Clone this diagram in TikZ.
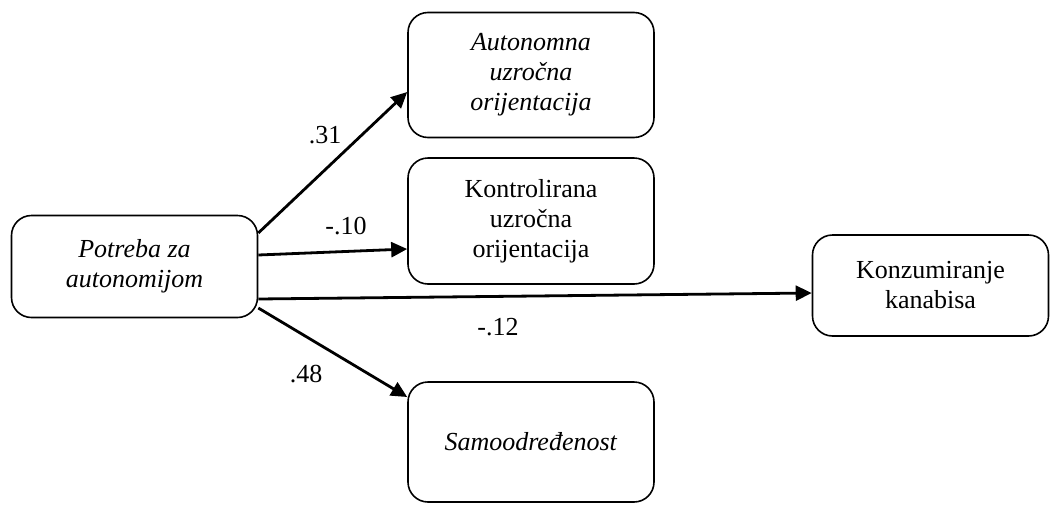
\documentclass[tikz,border=0pt]{standalone}
\usepackage{fontspec}
\setmainfont{Liberation Serif}
\usetikzlibrary{arrows.meta}
\tikzset{
	var/.style={draw, line width=1.6pt, rounded corners=20pt, align=center, inner sep=0pt,
			font=\fontsize{26}{30}\selectfont},
	effect/.style={line width=2.8pt, -{Triangle[length=16pt,width=15pt]}},
	coef/.style={anchor=base, font=\fontsize{26}{30}\selectfont}
}
\begin{document}
\begin{tikzpicture}[x=1pt,y=-1pt]
	\useasboundingbox (0,0) rectangle (1050,504);
	\node[var, minimum width=246pt, minimum height=102pt] (pot) at (134.5,266.5) {\textit{Potreba za}\\\textit{autonomijom}};
	\node[var, minimum width=246pt, minimum height=125pt] (aut) at (531,75) {\textit{Autonomna}\\\textit{uzročna}\\\textit{orijentacija}};
	\node[var, minimum width=246pt, minimum height=126pt] (kon) at (531,221) {Kontrolirana\\uzročna\\orijentacija};
	\node[var, minimum width=236pt, minimum height=101pt] (kan) at (930.5,285.5) {Konzumiranje\\kanabisa};
	\node[var, minimum width=246pt, minimum height=120pt] (sam) at (531,442) {\textit{Samoodređenost}};

	% putevi
	\draw[effect] ([yshift=33.5pt]pot.east) -- ([yshift=-17pt]aut.west);
	\draw[effect] ([yshift=11.5pt]pot.east) -- ([yshift=-28pt]kon.west);
	\draw[effect] ([yshift=-32.5pt]pot.east) -- ([yshift=-7.5pt]kan.west);
	\draw[effect] ([yshift=-41.5pt]pot.east) -- ([yshift=45pt]sam.west);

	% koeficijenti
	\node[coef] (c31) at (325,143) {.31};
	\node[coef] (c10) at (346,234) {-.10};
	\node[coef] (c12) at (498,335) {-.12};
	\node[coef] (c48) at (306,382) {.48};
\end{tikzpicture}
\end{document}
